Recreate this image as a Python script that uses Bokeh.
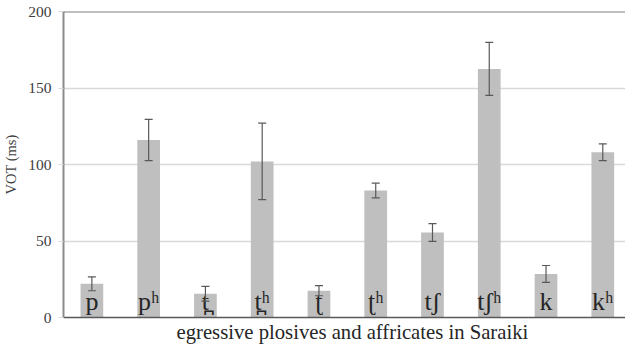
from bokeh.plotting import figure
from bokeh.models import ColumnDataSource, Range1d, FixedTicker, Span, Whisker, Title
from bokeh.core.properties import value
from bokeh.embed import file_html
from bokeh.resources import INLINE

# Saraiki egressive plosives and affricates: mean VOT and spread (ms)
segments = ["p", "pʰ", "t̪", "t̪ʰ", "ʈ", "ʈʰ", "tʃ", "tʃʰ", "k", "kʰ"]
vot_mean = [22, 116, 15.5, 102, 17.5, 83, 55.5, 162.5, 28.5, 108]
vot_err = [4.5, 13.5, 4.8, 25, 3.3, 4.8, 5.8, 17.3, 5.5, 5.5]
y_ticks = [0, 50, 100, 150, 200]
x_title = "egressive plosives and affricates in Saraiki"

SERIF = "'Liberation Serif', 'Times New Roman', serif"

pos = list(range(len(segments)))
src = ColumnDataSource(dict(
    x=pos,
    seg=segments,
    mean=vot_mean,
    lo=[m - e for m, e in zip(vot_mean, vot_err)],
    hi=[m + e for m, e in zip(vot_mean, vot_err)],
    base=[0] * len(segments),
))

p = figure(width=625, height=354, output_backend="svg", toolbar_location=None,
           x_range=Range1d(-0.5, 9.4), y_range=Range1d(0, 200),
           min_border_left=62, min_border_right=0, min_border_top=11,
           min_border_bottom=37)
p.outline_line_color = None
p.background_fill_color = "white"
p.border_fill_color = "white"

# y axis
p.yaxis.ticker = FixedTicker(ticks=y_ticks)
p.yaxis.axis_label = "VOT (ms)"
p.yaxis.axis_label_text_font = SERIF
p.yaxis.axis_label_text_font_style = "normal"
p.yaxis.axis_label_text_font_size = "14.5px"
p.yaxis.axis_label_text_color = "#404040"
p.yaxis.axis_label_standoff = 6
p.yaxis.major_label_text_font = SERIF
p.yaxis.major_label_text_font_size = "15.5px"
p.yaxis.major_label_text_color = "#404040"
p.yaxis.major_label_standoff = 7
p.yaxis.axis_line_color = "#8c8c8c"
p.yaxis.axis_line_width = 2
p.yaxis.major_tick_line_color = "#d9d9d9"
p.yaxis.major_tick_out = 5
p.yaxis.major_tick_in = 0
p.yaxis.minor_tick_line_color = None

# x axis: just the base line, segment labels sit inside the bars
p.xaxis.ticker = FixedTicker(ticks=[])
p.xaxis.major_label_text_font_size = "0px"
p.xaxis.axis_line_color = "#595959"
p.xaxis.axis_line_width = 1.5
p.xaxis.major_tick_line_color = None
p.xaxis.minor_tick_line_color = None

p.add_layout(Title(text=x_title, align="left", offset=113,
                   text_font=SERIF, text_font_style="normal",
                   text_font_size="20.7px", text_color="#262626",
                   standoff=2), "below")

p.xgrid.grid_line_color = None
p.ygrid.ticker = FixedTicker(ticks=[50, 100, 150])
p.ygrid.grid_line_color = "#d9d9d9"
p.ygrid.grid_line_width = 1.5

p.add_layout(Span(location=200, dimension="width", line_color="#7f7f7f", line_width=2))

p.vbar(x="x", top="mean", bottom="base", width=0.4, source=src,
       fill_color="#bfbfbf", line_color=None)

# error bars with caps, drawn above the bars
whisk = Whisker(source=src, base="x", lower="lo", upper="hi",
                line_color="#595959", line_width=1.2, level="overlay")
whisk.upper_head.size = 8
whisk.lower_head.size = 8
whisk.upper_head.line_color = "#595959"
whisk.lower_head.line_color = "#595959"
whisk.upper_head.line_width = 1.2
whisk.lower_head.line_width = 1.2
p.add_layout(whisk)

p.text(x="x", y="base", text="seg", source=src,
       text_font=value(SERIF), text_font_size="26px", text_color="#262626",
       text_align="center", text_baseline="alphabetic", y_offset=-16)

open("out.html", "w").write(file_html(p, INLINE))
